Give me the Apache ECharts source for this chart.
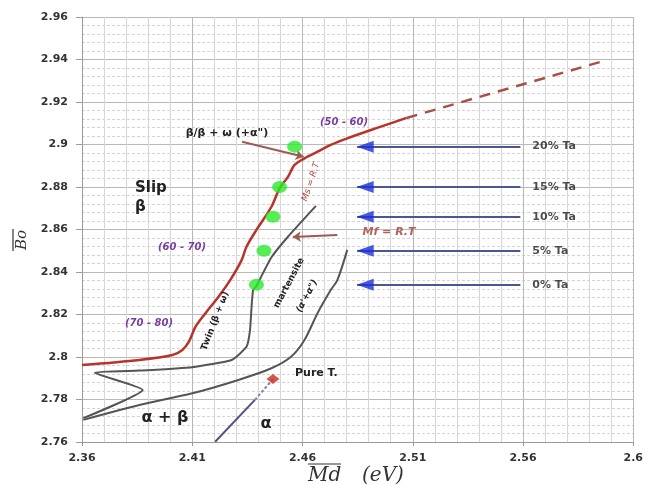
<!DOCTYPE html>
<html>
<head>
    <meta charset="utf-8" />
    <title></title>
    <script src="https://cdn.jsdelivr.net/npm/echarts@6/dist/echarts.min.js"></script>
    <style>
        html, body { margin: 0; padding: 0; background: #fff; }
    </style>
</head>
<body>
    <div id="chart" style="width:646px;height:485px;"></div>
    <script>
        // tick labels
        var xTickLabels = ['2.36', '2.41', '2.46', '2.51', '2.56', '2.6'];
        var yTickLabels = ['2.76', '2.78', '2.8', '2.82', '2.84', '2.86', '2.88', '2.9', '2.92', '2.94', '2.96'];

        // Ms = R.T boundary (red), solid part then extrapolated dashed part
        var msLine = [[2.36, 2.7962], [2.386, 2.7986], [2.401, 2.8009], [2.4055, 2.8033], [2.4085, 2.8072],
            [2.4115, 2.8143], [2.416, 2.8206], [2.4219, 2.8284], [2.4272, 2.8362], [2.4324, 2.8456],
            [2.4346, 2.8519], [2.4391, 2.8598], [2.4459, 2.8707], [2.4496, 2.8794], [2.4534, 2.8848],
            [2.4564, 2.8904], [2.4609, 2.8935], [2.4668, 2.8966], [2.4728, 2.8998], [2.4803, 2.9029],
            [2.4938, 2.9078], [2.5072, 2.9125]];
        var msExtrapolated = [[2.5072, 2.9125], [2.5982, 2.9398]];

        // twin / Mf = R.T boundary (grey)
        var twinLine = [[2.3606, 2.7712], [2.3875, 2.7845], [2.3658, 2.7926], [2.386, 2.7936], [2.41, 2.7952],
            [2.4279, 2.7986], [2.4346, 2.8048], [2.4362, 2.8127], [2.4369, 2.8237], [2.4376, 2.8315],
            [2.4391, 2.8334], [2.4457, 2.8466], [2.4534, 2.8566], [2.4661, 2.8711]];

        // martensite / alpha+beta boundary (grey)
        var martensiteLine = [[2.3606, 2.7704], [2.386, 2.7774], [2.41, 2.7829], [2.4309, 2.7892], [2.4459, 2.7947],
            [2.4548, 2.8001], [2.4609, 2.808], [2.4668, 2.8206], [2.4728, 2.8315], [2.4758, 2.8362], [2.4803, 2.8504]];

        // pure Ti
        var pureTi = [[2.4466, 2.7896]];
        var pureTiSolid = [[2.4204, 2.7601], [2.4384, 2.7798]];
        var pureTiDashed = [[2.4384, 2.7798], [2.4466, 2.7896]];

        // alloys (green) and Ta arrows
        var greenDots = [[2.4564, 2.899], [2.4496, 2.880], [2.4466, 2.866], [2.4425, 2.850], [2.4391, 2.834]];
        var taLabels = ['20% Ta', '15% Ta', '10% Ta', '5% Ta', '0% Ta'];
        var taLevels = [2.899, 2.880, 2.866, 2.850, 2.834];
        var arrowTipX = 2.4848;
        var arrowTailX = 2.5588;

        // brown pointer arrows
        var betaArrow = [[2.4326, 2.9013], [2.4605, 2.8942]];
        var mfArrow = [[2.4758, 2.8574], [2.4556, 2.8565]];

        var shafts = taLevels.map(function (y) {
            return { coords: [[arrowTailX, y], [arrowTipX, y]] };
        });
        var heads = taLevels.map(function (y) { return [arrowTipX, y]; });
        var tails = taLevels.map(function (y, i) { return { name: taLabels[i], value: [arrowTailX, y] }; });

        var bold = '"DejaVu Sans", sans-serif';

        function txt(s, x, y, font, fill, rot, align) {
            return {
                type: 'text', x: x, y: y, rotation: rot || 0, z: 100,
                style: { text: s, font: font, fill: fill, align: align || 'center', verticalAlign: 'middle' }
            };
        }

        var chart = echarts.init(document.getElementById('chart'));
        var option = {
            animation: false,
            backgroundColor: '#fff',
            grid: { left: 82, right: 7, top: 17, bottom: 43 },
            xAxis: [{
                type: 'value', min: 2.36, max: 2.61, show: false
            }, {
                type: 'value', min: 0, max: 0.25, interval: 0.05, position: 'bottom',
                axisLine: { show: true, lineStyle: { color: '#9a9a9a' } },
                axisTick: { show: true, length: 4, lineStyle: { color: '#9a9a9a' } },
                axisLabel: {
                    formatter: function (v, i) { return xTickLabels[i]; },
                    color: '#333', fontWeight: 'bold', fontSize: 11, fontFamily: bold, margin: 11
                },
                splitLine: { show: true, lineStyle: { color: '#b8b8b8' } },
                minorTick: { show: false, splitNumber: 5 },
                minorSplitLine: { show: true, lineStyle: { color: '#d6d6d6' } }
            }],
            yAxis: {
                type: 'value', min: 2.76, max: 2.96, interval: 0.02,
                axisLine: { show: true, lineStyle: { color: '#9a9a9a' } },
                axisTick: { show: true, length: 6, lineStyle: { color: '#9a9a9a' } },
                axisLabel: {
                    formatter: function (v, i) { return yTickLabels[i]; },
                    color: '#333', fontWeight: 'bold', fontSize: 11, fontFamily: bold, margin: 14
                },
                splitLine: { show: true, lineStyle: { color: '#b8b8b8' } },
                minorTick: { show: false, splitNumber: 5 },
                minorSplitLine: { show: true, lineStyle: { color: '#d4d4d4', type: [3, 2] } }
            },
            series: [{
                type: 'line', data: msLine, showSymbol: false, smooth: 0.3,
                lineStyle: { color: '#b8332a', width: 2.5 }, z: 5
            }, {
                type: 'line', data: msExtrapolated, showSymbol: false,
                lineStyle: { color: '#a85048', width: 2.5, type: [11, 8] }, z: 5
            }, {
                type: 'line', data: twinLine, showSymbol: false, smooth: 0.15,
                lineStyle: { color: '#555', width: 2 }, z: 4
            }, {
                type: 'line', data: martensiteLine, showSymbol: false, smooth: 0.3,
                lineStyle: { color: '#555', width: 2 }, z: 4
            }, {
                type: 'line', data: pureTiSolid, showSymbol: false,
                lineStyle: { color: '#5a4f80', width: 2 }, z: 4
            }, {
                type: 'line', data: pureTiDashed, showSymbol: false,
                lineStyle: { color: '#8a7fa6', width: 2, type: [3, 2] }, z: 4
            }, {
                type: 'scatter', data: pureTi, symbol: 'diamond', symbolSize: [13, 10],
                itemStyle: { color: '#cc2a1e' }, z: 6
            }, {
                type: 'scatter', data: greenDots, symbol: 'circle', symbolSize: [15, 12],
                itemStyle: { color: '#2bea2b' }, z: 7
            }, {
                type: 'lines', coordinateSystem: 'cartesian2d', data: shafts,
                lineStyle: { color: '#4b5794', width: 2, opacity: 1 }, z: 5
            }, {
                type: 'scatter', data: heads, symbol: 'path://M0,5 L12,0 L12,10 Z',
                symbolSize: [17, 12], symbolOffset: [8, 0],
                itemStyle: { color: '#1b2ed8' }, z: 6
            }, {
                type: 'scatter', data: tails, symbolSize: 0,
                label: {
                    show: true, position: 'right', distance: 12, formatter: '{b}',
                    color: '#222', fontWeight: 'bold', fontSize: 11, fontFamily: bold
                }, z: 6
            }, {
                type: 'lines', coordinateSystem: 'cartesian2d',
                data: [{ coords: betaArrow }, { coords: mfArrow }],
                symbol: ['none', 'arrow'], symbolSize: 8,
                lineStyle: { color: '#9b5a52', width: 2, opacity: 1 }, z: 6
            }],
            graphic: [
                txt('Slip', 135, 188, 'bold 15px ' + bold, '#222', 0, 'left'),
                txt('\u03b2', 135, 207, 'bold 15px ' + bold, '#222', 0, 'left'),
                txt('\u03b2/\u03b2 + \u03c9 (+\u03b1")', 227, 133, 'bold 11px ' + bold, '#222'),
                txt('(50 - 60)', 344, 122, 'italic bold 10px ' + bold, '#7a3f9e'),
                txt('(60 - 70)', 182, 247, 'italic bold 10px ' + bold, '#7a3f9e'),
                txt('(70 - 80)', 149, 323, 'italic bold 10px ' + bold, '#7a3f9e'),
                txt('Mf = R.T', 389, 232, 'italic bold 11px ' + bold, '#b0625a'),
                txt('Ms = R.T', 311, 182, 'italic 9px ' + bold, '#b04a40', 1.25),
                txt('Twin (\u03b2 + \u03c9)', 215, 321, 'bold 9px ' + bold, '#222', 1.2),
                txt('martensite', 289, 283, 'bold 9px ' + bold, '#222', 1.08),
                txt('(\u03b1\'+\u03b1")', 307, 296, 'italic bold 9px ' + bold, '#222', 1.08),
                txt('\u03b1 + \u03b2', 165, 418, 'bold 16px ' + bold, '#222'),
                txt('\u03b1', 266, 424, 'bold 16px ' + bold, '#222'),
                txt('Pure T.', 295, 373, 'bold 11px ' + bold, '#222', 0, 'left'),
                txt('Md', 308, 476, 'italic 20px "DejaVu Serif", serif', '#333', 0, 'left'),
                txt('(eV)', 362, 476, 'italic 20px "DejaVu Serif", serif', '#333', 0, 'left'),
                { type: 'line', shape: { x1: 308, y1: 464, x2: 341, y2: 464 }, style: { stroke: '#333', lineWidth: 1.2 } },
                txt('Bo', 22, 240, 'italic 15px "DejaVu Serif", serif', '#333', Math.PI / 2),
                { type: 'line', shape: { x1: 13, y1: 229, x2: 13, y2: 251 }, style: { stroke: '#333', lineWidth: 1.2 } }
            ]
        };
        chart.setOption(option);
    </script>
</body>
</html>
